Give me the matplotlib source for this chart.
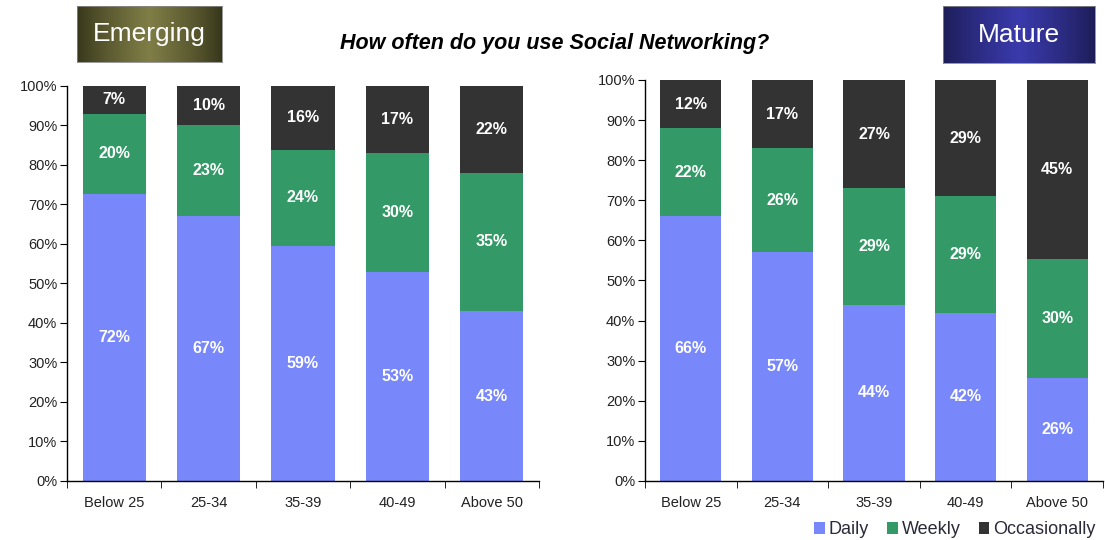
import numpy as np
import matplotlib
matplotlib.use("Agg")
import matplotlib.pyplot as plt
from matplotlib.patches import Patch

categories = ["Below 25", "25-34", "35-39", "40-49", "Above 50"]
emerging_daily = [72, 67, 59, 53, 43]
emerging_weekly = [20, 23, 24, 30, 35]
emerging_occ = [7, 10, 16, 17, 22]
mature_daily = [66, 57, 44, 42, 26]
mature_weekly = [22, 26, 29, 29, 30]
mature_occ = [12, 17, 27, 29, 45]
series_names = ["Daily", "Weekly", "Occasionally"]
yticks = [0, 10, 20, 30, 40, 50, 60, 70, 80, 90, 100]

colors = ["#7887fa", "#339966", "#333333"]

fig = plt.figure(figsize=(11.05, 5.4), dpi=100)
plt.rcParams['font.family'] = ['Liberation Sans', 'DejaVu Sans']


def draw(ax, daily, weekly, occ):
    x = np.arange(len(categories))
    w = 0.67
    data = np.array([daily, weekly, occ], dtype=float)
    totals = data.sum(axis=0)
    shares = data / totals * 100  # 100% stacked
    bottom = np.zeros(len(categories))
    for vals, labels, c in zip(shares, data, colors):
        ax.bar(x, vals, w, bottom=bottom, color=c, edgecolor='none', zorder=2)
        for xi, b, v, lab in zip(x, bottom, vals, labels):
            ax.text(xi, b + v / 2, f"{int(lab)}%", ha='center', va='center',
                    color='white', fontsize=11.5, fontweight='bold', zorder=3)
        bottom = bottom + vals
    ax.set_xlim(-0.5, len(categories) - 0.5)
    ax.set_ylim(0, 100)
    ax.set_yticks(yticks)
    ax.set_yticklabels([f"{v}%" for v in yticks], fontsize=10.5, color='#222222')
    ax.set_xticks(x)
    ax.set_xticklabels(categories, fontsize=10.5, color='#222222')
    ax.set_xticks(np.arange(len(categories) + 1) - 0.5, minor=True)
    ax.tick_params(axis='x', which='major', length=0, pad=11)
    ax.tick_params(axis='x', which='minor', length=5, direction='out', color='black')
    ax.tick_params(axis='y', length=5, direction='out', color='black', pad=2)
    for s in ['top', 'right']:
        ax.spines[s].set_visible(False)
    for s in ['left', 'bottom']:
        ax.spines[s].set_color('black')
        ax.spines[s].set_linewidth(1.0)


ax1 = fig.add_axes([0.0606, 0.1093, 0.4272, 0.7315])
draw(ax1, emerging_daily, emerging_weekly, emerging_occ)
ax2 = fig.add_axes([0.5837, 0.1093, 0.4145, 0.7426])
draw(ax2, mature_daily, mature_weekly, mature_occ)


def gradient_box(rect, edge, center, label):
    bax = fig.add_axes(rect)
    n = 256
    t = np.linspace(0, 1, n)
    prof = 1 - np.abs(t - 0.5) * 2
    prof = prof ** 0.8
    e = np.array(matplotlib.colors.to_rgb(edge))
    c = np.array(matplotlib.colors.to_rgb(center))
    img = e[None, :] + (c - e)[None, :] * prof[:, None]
    bax.imshow(img[None, :, :], aspect='auto', extent=[0, 1, 0, 1])
    bax.set_xlim(0, 1)
    bax.set_ylim(0, 1)
    bax.set_xticks([])
    bax.set_yticks([])
    for s in bax.spines.values():
        s.set_color('#888888')
        s.set_linewidth(0.6)
    bax.text(0.5, 0.5, label, ha='center', va='center', color='white',
             fontsize=19, transform=bax.transAxes)


gradient_box([77 / 1105, 1 - 62 / 540, 145 / 1105, 56 / 540], '#35351a', '#807e46', 'Emerging')
gradient_box([943 / 1105, 1 - 63 / 540, 152 / 1105, 57 / 540], '#1c1c55', '#3a3aac', 'Mature')

fig.text(555 / 1105, 1 - 44 / 540, "How often do you use Social Networking?",
         ha='center', va='center', fontsize=15.5, fontweight='bold', style='italic',
         color='black')

handles = [Patch(facecolor=c, edgecolor='none') for c in colors]
fig.legend(handles, series_names, loc='lower right', bbox_to_anchor=(1.006, -0.027),
           ncol=3, frameon=False, fontsize=13, handlelength=0.6, handleheight=0.6,
           handletextpad=0.2, columnspacing=1.0, labelcolor='#2a2a3a')

fig.savefig("out.png", dpi=100)
